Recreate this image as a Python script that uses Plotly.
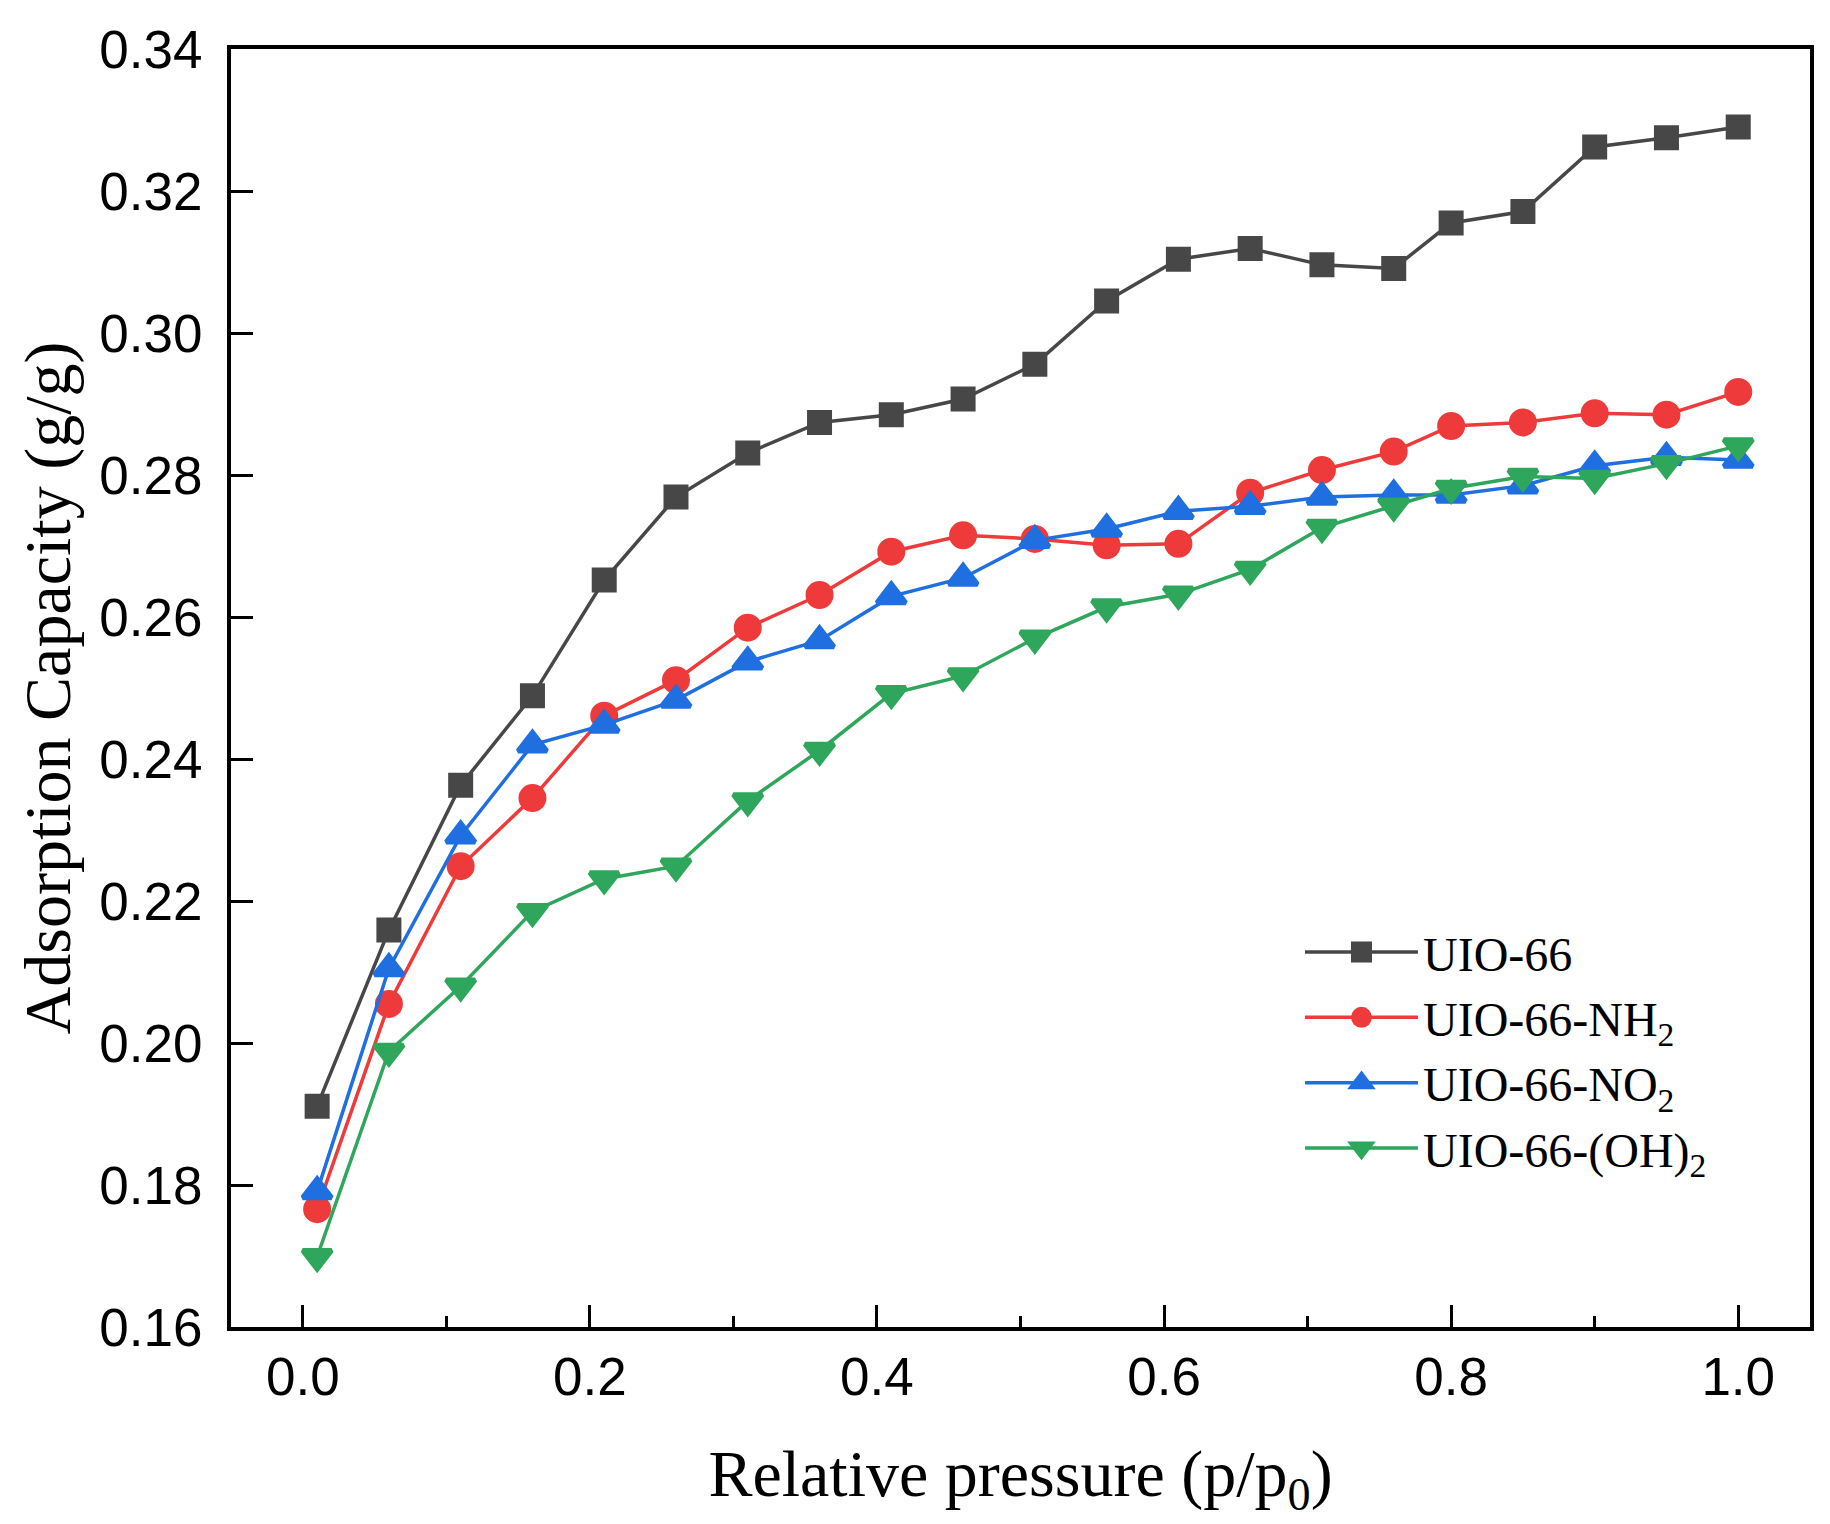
import plotly.graph_objects as go

# relative pressure p/p0
pressure = [0.01, 0.06, 0.11, 0.16, 0.21, 0.26, 0.31, 0.36, 0.41, 0.46, 0.51,
            0.56, 0.61, 0.66, 0.71, 0.76, 0.80, 0.85, 0.90, 0.95, 1.00]

# adsorption capacity (g/g)
uio66 = [0.1911, 0.2159, 0.2363, 0.2489, 0.2652, 0.2769, 0.2831, 0.2874, 0.2885, 0.2907, 0.2956,
         0.3045, 0.3104, 0.3119, 0.3096, 0.3091, 0.3155, 0.3171, 0.3262, 0.3275, 0.3290]
uio66_nh2 = [0.1766, 0.2055, 0.2249, 0.2345, 0.2461, 0.2511, 0.2585, 0.2631, 0.2692, 0.2715, 0.2710,
             0.2701, 0.2703, 0.2775, 0.2807, 0.2833, 0.2869, 0.2874, 0.2887, 0.2885, 0.2917]
uio66_no2 = [0.1791, 0.2105, 0.2292, 0.2420, 0.2448, 0.2483, 0.2537, 0.2567, 0.2629, 0.2655, 0.2708,
             0.2724, 0.2749, 0.2756, 0.2769, 0.2772, 0.2772, 0.2785, 0.2813, 0.2825, 0.2821]
uio66_oh2 = [0.1699, 0.1988, 0.2080, 0.2185, 0.2231, 0.2249, 0.2341, 0.2412, 0.2492, 0.2517, 0.2570,
             0.2614, 0.2632, 0.2667, 0.2726, 0.2756, 0.2781, 0.2798, 0.2795, 0.2816, 0.2841]

names = ['UIO-66', 'UIO-66-NH<sub>2</sub>', 'UIO-66-NO<sub>2</sub>', 'UIO-66-(OH)<sub>2</sub>']
series = [uio66, uio66_nh2, uio66_no2, uio66_oh2]
colors = ['#474747', '#ee3a3a', '#1f6fe0', '#2ea65c']
symbols = ['square', 'circle', 'triangle-up', 'triangle-down']
# marker outline in the same colour keeps legend symbols from shrinking too much
sizes = [20, 23, 25, 25]

fig = go.Figure()
for name, ys, col, sym, sz in zip(names, series, colors, symbols, sizes):
    fig.add_trace(go.Scatter(
        x=pressure, y=ys, name=name, mode='lines+markers',
        line=dict(color=col, width=3.5),
        marker=dict(symbol=sym, size=sz, color=col, line=dict(width=5, color=col)),
    ))

axis_common = dict(
    showline=True, linecolor='black', linewidth=4, mirror=True,
    showgrid=False, zeroline=False,
    ticks='inside', tickcolor='black', tickwidth=3, ticklen=22,
    tickfont=dict(family='Liberation Sans', size=53, color='black'),
)

fig.update_layout(
    width=1830, height=1524,
    margin=dict(l=223, r=28, t=41, b=205),
    paper_bgcolor='white', plot_bgcolor='white',
    xaxis=dict(
        range=[-0.05, 1.05], tickvals=[0, 0.2, 0.4, 0.6, 0.8, 1.0],
        ticktext=['0.0', '0.2', '0.4', '0.6', '0.8', '1.0'],
        minor=dict(ticks='inside', ticklen=11, tickwidth=3, tickcolor='black', dtick=0.1),
        title=dict(text='Relative pressure (p/p<sub>0</sub>)', standoff=46,
                   font=dict(family='Liberation Serif', size=66, color='black')),
        **axis_common,
    ),
    yaxis=dict(
        range=[0.16, 0.34], dtick=0.02, tickformat='.2f', ticklabelstandoff=14,
        title=dict(text='Adsorption Capacity (g/g)', standoff=8,
                   font=dict(family='Liberation Serif', size=66, color='black')),
        **axis_common,
    ),
    legend=dict(
        x=0.677, y=0.323, xanchor='left', yanchor='top',
        bgcolor='rgba(0,0,0,0)', itemwidth=113,
        font=dict(family='Liberation Serif', size=48, color='black'),
    ),
)

fig.write_html('out.html')
